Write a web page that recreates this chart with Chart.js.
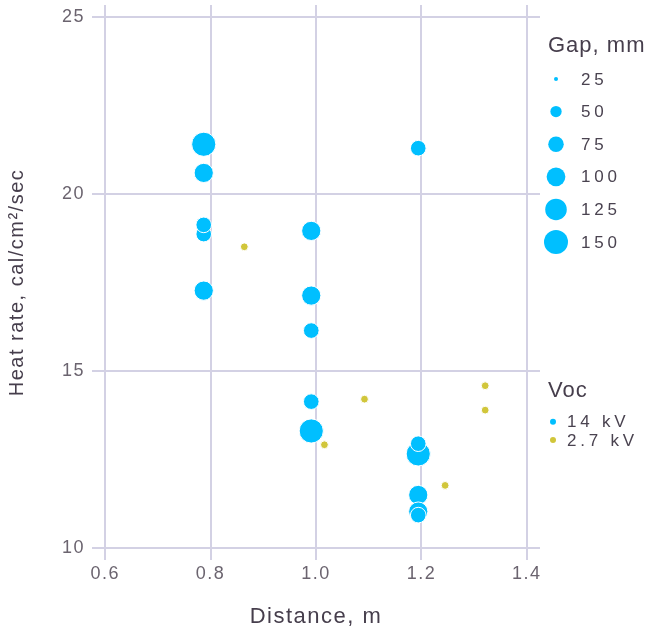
<!DOCTYPE html>
<html>
<head>
<meta charset="utf-8">
<script src="https://cdn.jsdelivr.net/npm/chart.js@4.4.1/dist/chart.umd.min.js"></script>
<style>
  html, body { margin: 0; padding: 0; background: #fff; }
  #chart { display: block; }
</style>
</head>
<body>
<canvas id="chart" width="648" height="634"></canvas>
<script>
// 14 kV tests (order matters where circles overlap)
const hiDistance = [0.787, 0.787, 0.787, 0.787, 0.787, 0.991, 0.991, 0.991, 0.991, 0.991, 1.194, 1.194, 1.194, 1.194, 1.194, 1.194];
const hiHeat     = [21.41, 20.60, 18.87, 19.13, 17.27, 18.96, 17.13, 16.14, 14.13, 13.30, 21.30, 12.65, 12.94, 11.49, 11.02, 10.92];
const hiGap      = [152, 104, 76, 76, 104, 104, 104, 76, 76, 152, 76, 152, 76, 104, 104, 76];

// 2.7 kV tests
const loDistance = [0.864, 1.016, 1.092, 1.245, 1.321, 1.321];
const loHeat     = [18.51, 12.91, 14.20, 11.76, 14.58, 13.89];
const loGap      = [35, 35, 35, 35, 35, 35];

const xTicks = [0.6, 0.8, 1.0, 1.2, 1.4];
const yTicks = [10, 15, 20, 25];
const gapBreaks = [25, 50, 75, 100, 125, 150];
const vocLabels = ["14 kV", "2.7 kV"];
const vocColors = ["#00bfff", "#d1c63a"];

const family = "'Liberation Sans', Arial, sans-serif";
const gridColor = "#d3d1e4";
const tickColor = "#6b646f";
const titleColor = "#463e4c";
const labelColor = "#4a4350";

// gap (mm) -> point radius (px), area grows linearly with gap
function sizeOf(g) {
    return Math.sqrt(Math.max(1.12 * g - 24, 1));
}

const toPoints = (xs, ys) => xs.map((x, i) => ({ x: x, y: ys[i] }));

const spacing = {
    id: "spacing",
    beforeDraw(chart) { chart.ctx.letterSpacing = "1.5px"; }
};

const legends = {
    id: "legends",
    afterDraw(chart) {
        const ctx = chart.ctx;
        ctx.save();
        ctx.textAlign = "left";

        ctx.textBaseline = "alphabetic";
        ctx.font = "22px " + family;
        ctx.letterSpacing = "1px";
        ctx.fillStyle = titleColor;
        ctx.fillText("Gap, mm", 548, 52);

        ctx.font = "17px " + family;
        ctx.letterSpacing = "3.8px";
        ctx.textBaseline = "middle";
        gapBreaks.forEach((g, i) => {
            const y = 79 + i * 32.6;
            ctx.beginPath();
            ctx.arc(556, y, sizeOf(g), 0, Math.PI * 2);
            ctx.fillStyle = vocColors[0];
            ctx.fill();
            ctx.fillStyle = labelColor;
            ctx.fillText(String(g), 581, y + 1);
        });

        ctx.textBaseline = "alphabetic";
        ctx.font = "22px " + family;
        ctx.letterSpacing = "1px";
        ctx.fillStyle = titleColor;
        ctx.fillText("Voc", 548, 397);

        ctx.font = "17px " + family;
        ctx.letterSpacing = "3.8px";
        ctx.textBaseline = "middle";
        vocLabels.forEach((lab, i) => {
            const y = 421.7 + i * 18.3;
            ctx.beginPath();
            ctx.arc(553, y, 3, 0, Math.PI * 2);
            ctx.fillStyle = vocColors[i];
            ctx.fill();
            ctx.fillStyle = labelColor;
            ctx.fillText(lab, 567, y + 1);
        });
        ctx.restore();
    }
};

Chart.defaults.font.family = family;

new Chart(document.getElementById("chart").getContext("2d"), {
    type: "scatter",
    data: {
        datasets: [
            {
                label: vocLabels[0],
                data: toPoints(hiDistance, hiHeat),
                backgroundColor: vocColors[0],
                borderColor: "#ffffff",
                borderWidth: 1,
                pointRadius: c => sizeOf(hiGap[c.dataIndex]),
            },
            {
                label: vocLabels[1],
                data: toPoints(loDistance, loHeat),
                backgroundColor: vocColors[1],
                borderColor: "#ffffff",
                borderWidth: 1,
                pointRadius: c => sizeOf(loGap[c.dataIndex]),
            }
        ]
    },
    options: {
        responsive: false,
        animation: false,
        events: [],
        layout: { autoPadding: false, padding: { top: 5, right: 108, bottom: 0, left: 0 } },
        plugins: { legend: { display: false }, tooltip: { enabled: false } },
        scales: {
            x: {
                type: "linear",
                min: 0.575,
                max: 1.425,
                afterBuildTicks: s => { s.ticks = xTicks.map(v => ({ value: v })); },
                afterFit: s => { s.height = 74; s.paddingLeft = 0; s.paddingRight = 0; },
                grid: { color: gridColor, lineWidth: 2, drawTicks: false },
                border: { display: false },
                ticks: { padding: 3, color: tickColor, font: { size: 18 }, callback: v => v.toFixed(1) },
                title: { display: true, text: "Distance, m", color: titleColor, font: { size: 22 }, padding: { top: 0, bottom: 4 } }
            },
            y: {
                type: "linear",
                min: 9.65,
                max: 25.35,
                afterBuildTicks: s => { s.ticks = yTicks.map(v => ({ value: v })); },
                afterFit: s => { s.width = 92; s.paddingTop = 0; s.paddingBottom = 0; },
                grid: { color: gridColor, lineWidth: 2, drawTicks: false },
                border: { display: false },
                ticks: { padding: 7, color: tickColor, font: { size: 18 }, callback: v => String(v) },
                title: { display: true, text: "Heat rate, cal/cm²/sec", color: titleColor, font: { size: 20 }, padding: { top: 5, bottom: 0 } }
            }
        }
    },
    plugins: [spacing, legends]
});
</script>
</body>
</html>
